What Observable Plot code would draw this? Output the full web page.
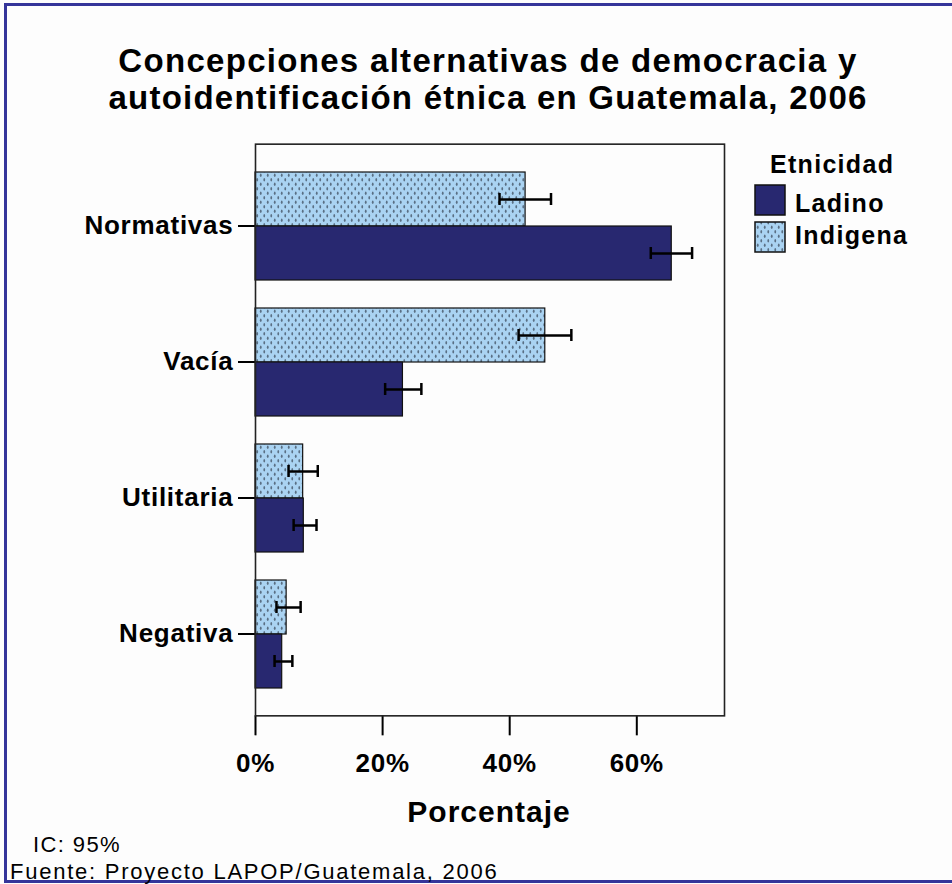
<!DOCTYPE html>
<html>
<head>
<meta charset="utf-8">
<script src="https://cdn.jsdelivr.net/npm/d3@7"></script>
<script src="https://cdn.jsdelivr.net/npm/@observablehq/plot@0.6"></script>
<style>
  html, body { margin: 0; padding: 0; background: #fdfdfd; }
  #page { position: relative; width: 952px; height: 884px; overflow: hidden; background: #fdfdfd;
          font-family: "Liberation Sans", Arial, sans-serif; }
  #border { position: absolute; left: 4px; top: 3px; width: 1000px; height: 880px; box-sizing: border-box;
            border-left: 3px solid #35359a; border-top: 3px solid #35359a; border-bottom: 3px solid #35359a; }
  #chart { position: absolute; left: 0; top: 0; }
  #overlay { position: absolute; left: 0; top: 0; pointer-events: none; }
  #overlay text { font-family: "Liberation Sans", Arial, sans-serif; fill: #000; }
</style>
</head>
<body>
<div id="page">
  <div id="border"></div>
  <div id="chart"></div>
  <svg id="overlay" width="952" height="884">
    <defs>
      <pattern id="dotsLegend" patternUnits="userSpaceOnUse" width="7" height="9">
        <rect width="7" height="9" fill="#aad3f2"></rect>
        <ellipse cx="1.75" cy="2.25" rx="0.9" ry="1.7" fill="#5a6f84"></ellipse>
        <ellipse cx="5.25" cy="6.75" rx="0.9" ry="1.7" fill="#5a6f84"></ellipse>
      </pattern>
    </defs>
    <text x="488" y="72" text-anchor="middle" font-size="33" font-weight="bold" letter-spacing="1.3">Concepciones alternativas de democracia y</text>
    <text x="488" y="109" text-anchor="middle" font-size="33" font-weight="bold" letter-spacing="1.25">autoidentificación étnica en Guatemala, 2006</text>
    <text x="770" y="173" font-size="25" font-weight="bold" letter-spacing="1.3">Etnicidad</text>
    <rect x="755" y="185" width="30" height="30" fill="#282870" stroke="#111" stroke-width="1.5"></rect>
    <text x="795" y="211.5" font-size="25" font-weight="bold" letter-spacing="1.3">Ladino</text>
    <rect x="755" y="222" width="30" height="30" fill="url(#dotsLegend)" stroke="#111" stroke-width="1.5"></rect>
    <text x="795" y="243.5" font-size="25" font-weight="bold" letter-spacing="1.3">Indigena</text>
    <text x="489" y="822" text-anchor="middle" font-size="30" font-weight="bold" letter-spacing="1">Porcentaje</text>
    <text x="33" y="851.5" font-size="22" letter-spacing="1.4">IC: 95%</text>
    <text x="10" y="879" font-size="22" letter-spacing="1.75">Fuente: Proyecto LAPOP/Guatemala, 2006</text>
  </svg>
</div>
<script>
// ---- Data ----
const categories = ["Normativas", "Vacía", "Utilitaria", "Negativa"];
const groups = ["Indigena", "Ladino"];
const indigena   = [42.5, 45.6, 7.5, 4.9];
const indigenaLo = [38.4, 41.4, 5.2, 3.3];
const indigenaHi = [46.5, 49.7, 9.8, 7.1];
const ladino     = [65.5, 23.2, 7.6, 4.2];
const ladinoLo   = [62.2, 20.4, 6.0, 3.0];
const ladinoHi   = [68.7, 26.1, 9.6, 5.8];
const xTicks = [0, 20, 40, 60];
const xMax = 73.8;

const rows = categories.flatMap((c, i) => [
  {cat: c, eth: "Indigena", v: indigena[i], lo: indigenaLo[i], hi: indigenaHi[i]},
  {cat: c, eth: "Ladino", v: ladino[i], lo: ladinoLo[i], hi: ladinoHi[i]}
]);
const indRows = rows.filter(d => d.eth === "Indigena");
const ladRows = rows.filter(d => d.eth === "Ladino");

// layout
const W = 952, H = 884, mL = 255, mR = 228, mT = 142, mB = 168;
const pad = 0.2;
const outer = (H - mT - mB) / (categories.length - pad + 2 * pad) * pad; // outer band padding in px

const plot = Plot.plot({
  width: W,
  height: H,
  marginLeft: mL,
  marginRight: mR,
  marginTop: mT,
  marginBottom: mB,
  style: {
    background: "transparent",
    fontFamily: "'Liberation Sans', Arial, sans-serif",
    fontSize: "26px",
    fontWeight: "bold",
    color: "#000",
    letterSpacing: "0.75px",
    overflow: "visible"
  },
  x: {domain: [0, xMax], ticks: xTicks, tickFormat: d => d + "%", tickSize: 20, tickPadding: 18, label: null},
  y: {domain: groups, axis: null, padding: 0},
  fy: {domain: categories, paddingInner: pad, paddingOuter: pad, axis: "left", tickSize: 17, tickPadding: 5, label: null},
  marks: [
    Plot.barX(indRows, {fy: "cat", y: "eth", x: "v", fill: "url(#dots)", stroke: "#111", strokeWidth: 1.2}),
    Plot.barX(ladRows, {fy: "cat", y: "eth", x: "v", fill: "#282870", stroke: "#111", strokeWidth: 1.2}),
    Plot.ruleY(rows, {fy: "cat", y: "eth", x1: "lo", x2: "hi", stroke: "#000", strokeWidth: 2.5}),
    Plot.tickX(rows, {fy: "cat", y: "eth", x: "lo", stroke: "#000", strokeWidth: 2.5, insetTop: 21, insetBottom: 21}),
    Plot.tickX(rows, {fy: "cat", y: "eth", x: "hi", stroke: "#000", strokeWidth: 2.5, insetTop: 21, insetBottom: 21}),
    Plot.frame({facet: "super", stroke: "#222", strokeWidth: 1.6, insetTop: -outer, insetBottom: -outer})
  ]
});

// pattern definition for the Indigena bars
d3.select(plot).insert("defs", ":first-child").html(
  '<pattern id="dots" patternUnits="userSpaceOnUse" width="7" height="9">' +
  '<rect width="7" height="9" fill="#aad3f2"></rect>' +
  '<ellipse cx="1.75" cy="2.25" rx="0.9" ry="1.7" fill="#5a6f84"></ellipse>' +
  '<ellipse cx="5.25" cy="6.75" rx="0.9" ry="1.7" fill="#5a6f84"></ellipse>' +
  '</pattern>'
);
// move the x axis down to the outer frame edge
d3.select(plot).selectAll("g[aria-label^='x-axis']").each(function () {
  const t = this.getAttribute("transform") || "";
  this.setAttribute("transform", `translate(0,${outer}) ${t}`);
});
d3.select(plot).selectAll("g[aria-label$='tick']").attr("stroke-width", 2);

document.getElementById("chart").appendChild(plot);
</script>
</body>
</html>
